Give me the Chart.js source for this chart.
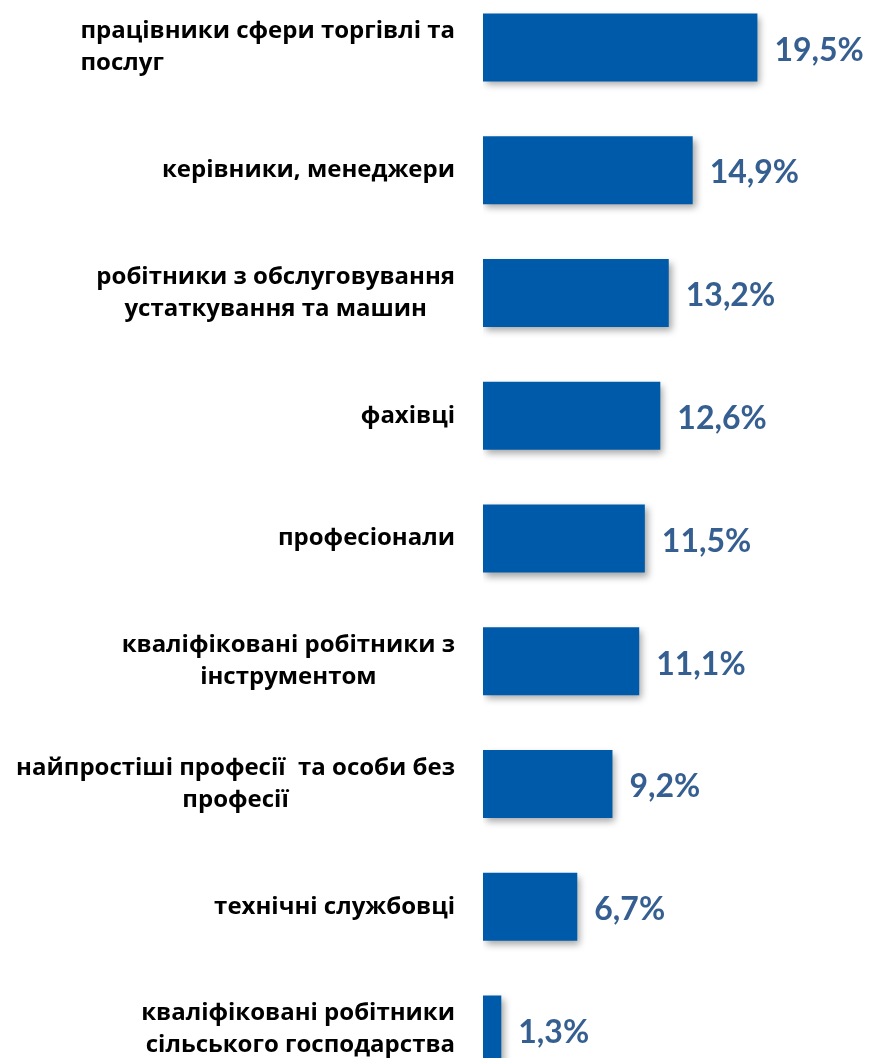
<!DOCTYPE html>
<html>
<head>
<meta charset="utf-8">
<script src="https://cdn.jsdelivr.net/npm/chart.js@4.4.0/dist/chart.umd.min.js"></script>
<style>
  html, body { margin: 0; padding: 0; background: #fff; overflow: hidden; }
  #wrap { position: absolute; left: 0; top: -14px; width: 870px; height: 1105px; }
</style>
</head>
<body>
<div id="wrap"><canvas id="grafica"></canvas></div>
<script>
// категорії (по рядках підпису)
const categories = [
    ["працівники сфери торгівлі та", "послуг"],
    ["керівники, менеджери"],
    ["робітники з обслуговування", "устаткування та машин"],
    ["фахівці"],
    ["професіонали"],
    ["кваліфіковані робітники з", "інструментом"],
    ["найпростіші професії  та особи без", "професії"],
    ["технічні службовці"],
    ["кваліфіковані робітники", "сільського господарства"]
];
const values = [19.5, 14.9, 13.2, 12.6, 11.5, 11.1, 9.2, 6.7, 1.3];
const valueLabels = ["19,5%", "14,9%", "13,2%", "12,6%", "11,5%", "11,1%", "9,2%", "6,7%", "1,3%"];

// вирівнювання рядків підпису
const labelAlign = ["left", "right", "center", "right", "right", "center", "center", "right", "right"];

const LABEL_RIGHT = 455;
const LABEL_FONT = "bold 24px 'Open Sans'";
const VALUE_FONT = "bold 32px Lato, 'Open Sans'";

// тінь під стовпчиками
const shadowPlugin = {
    id: "shadow",
    beforeDatasetsDraw(chart) {
        const c = chart.ctx;
        c.save();
        c.shadowColor = "rgba(0,0,0,0.35)";
        c.shadowBlur = 7;
        c.shadowOffsetX = 3;
        c.shadowOffsetY = 4;
    },
    afterDatasetsDraw(chart) {
        chart.ctx.restore();
    }
};

// підписи категорій і значень
const labelsPlugin = {
    id: "labels",
    afterDraw(chart) {
        const c = chart.ctx;
        const y = chart.scales.y;
        const meta = chart.getDatasetMeta(0);
        c.save();
        c.textBaseline = "middle";
        c.fillStyle = "#000";
        c.font = LABEL_FONT;
        categories.forEach((lines, i) => {
            const cy = y.getPixelForValue(i);
            const lh = 32;
            const maxW = Math.max(...lines.map(l => c.measureText(l).width));
            const left = LABEL_RIGHT - maxW;
            lines.forEach((line, j) => {
                const ly = cy + (j - (lines.length - 1) / 2) * lh;
                const w = c.measureText(line).width;
                let x;
                if (labelAlign[i] === "left") x = left;
                else if (labelAlign[i] === "center") x = left + (maxW - w) / 2;
                else x = LABEL_RIGHT - w;
                c.textAlign = "left";
                c.fillText(line, x, ly);
            });
        });
        c.font = VALUE_FONT;
        c.fillStyle = "#365F91";
        c.textAlign = "left";
        meta.data.forEach((bar, i) => {
            c.fillText(valueLabels[i], bar.x + 17, bar.y + 3);
        });
        c.restore();
    }
};

new Chart(document.getElementById("grafica"), {
    type: "bar",
    data: {
        labels: categories,
        datasets: [{
            data: values,
            backgroundColor: "#005AAA",
            borderWidth: 0,
            barPercentage: 0.554,
            categoryPercentage: 1
        }]
    },
    options: {
        indexAxis: "y",
        responsive: true,
        maintainAspectRatio: false,
        animation: false,
        layout: { padding: 0 },
        plugins: {
            legend: { display: false },
            tooltip: { enabled: false }
        },
        scales: {
            x: {
                min: 0,
                max: 27.5,
                display: false
            },
            y: {
                grid: { display: false },
                border: { display: false },
                ticks: { display: false },
                afterFit(scale) { scale.width = 483; }
            }
        }
    },
    plugins: [shadowPlugin, labelsPlugin]
});
</script>
</body>
</html>
